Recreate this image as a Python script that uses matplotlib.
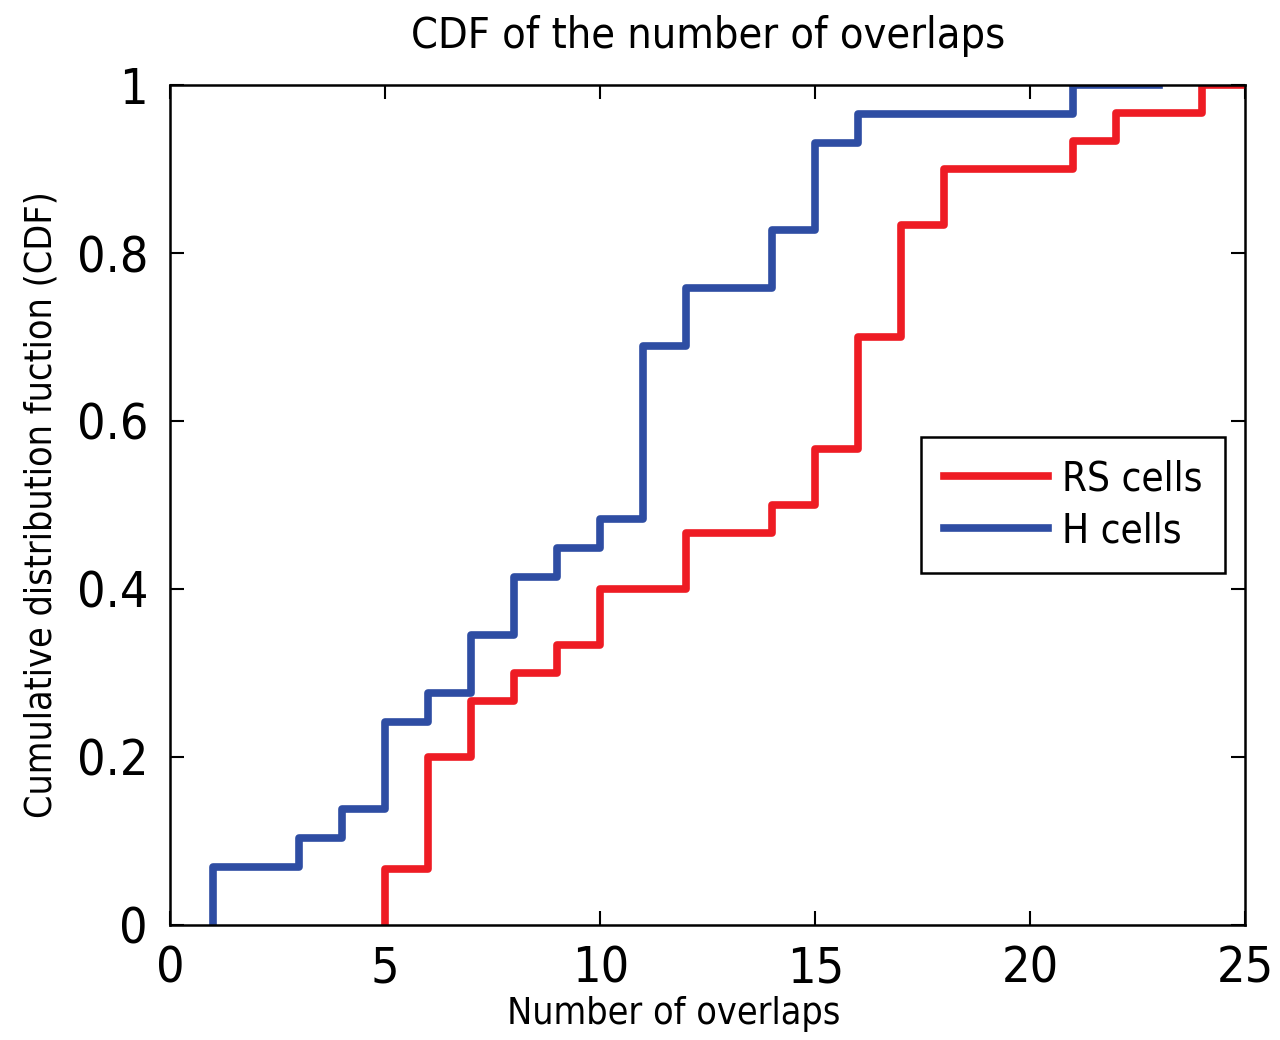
import numpy as np
import matplotlib.pyplot as plt

plt.rcParams['font.family'] = ['DejaVu Sans']
plt.rcParams['font.stretch'] = 'condensed'

# valores donde salta la CDF y cuantas celdas hay en cada salto
rs_x = [5, 6, 7, 8, 9, 10, 12, 14, 15, 16, 17, 18, 21, 22, 24]
rs_n = [2, 4, 2, 1, 1, 2, 2, 1, 2, 4, 4, 2, 1, 1, 1]
rs_end = 25

h_x = [1, 3, 4, 5, 6, 7, 8, 9, 10, 11, 12, 14, 15, 16, 21]
h_n = [2, 1, 1, 3, 1, 2, 2, 1, 1, 6, 2, 2, 3, 1, 1]
h_end = 23


def curva(xs, ns, fin):
    y = np.cumsum(ns) / np.sum(ns)
    x = [xs[0]] + list(xs) + [fin]
    y = [0] + list(y) + [1]
    return x, y


fig, ax = plt.subplots(figsize=(12.8, 10.4), dpi=100)
fig.subplots_adjust(left=0.133, right=0.973, bottom=0.111, top=0.918)

x, y = curva(rs_x, rs_n, rs_end)
ax.step(x, y, where='post', color='#ee1c24', linewidth=5.5, label='RS cells')
x, y = curva(h_x, h_n, h_end)
ax.step(x, y, where='post', color='#2e4da3', linewidth=5.5, label='H cells')

ax.set_xlim(0, 25)
ax.set_ylim(0, 1)
ax.set_xticks([0, 5, 10, 15, 20, 25])
ax.set_yticks([0, 0.2, 0.4, 0.6, 0.8, 1])
ax.set_yticklabels(['0', '0.2', '0.4', '0.6', '0.8', '1'])
ax.tick_params(direction='in', top=True, right=True, length=10, width=1.5,
               labelsize=36)
ax.tick_params(axis='y', pad=16)
ax.tick_params(axis='x', pad=14)
for s in ax.spines.values():
    s.set_linewidth(1.8)

ax.set_title('CDF of the number of overlaps', fontsize=31, pad=27)
ax.set_xlabel('Number of overlaps', fontsize=27)
ax.xaxis.set_label_coords(0.468, -0.085)
ax.set_ylabel('Cumulative distribution fuction (CDF)', fontsize=27, labelpad=12)

leg = ax.legend(loc='upper right', bbox_to_anchor=(0.981, 0.581), borderaxespad=0,
                fontsize=29, frameon=True, fancybox=False, edgecolor='black',
                handlelength=2.6, handletextpad=0.35, borderpad=0.55,
                labelspacing=0.3, framealpha=1)
leg.get_frame().set_linewidth(1.8)

plt.savefig('out.png')
